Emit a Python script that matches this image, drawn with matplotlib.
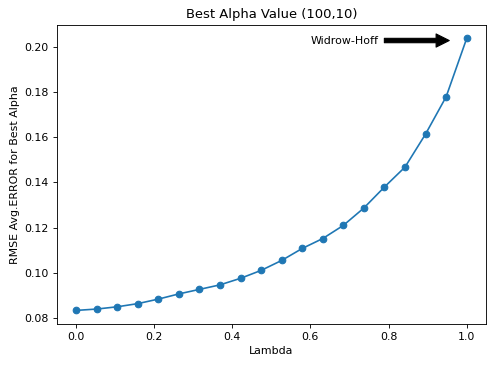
import matplotlib
matplotlib.use("Agg")
import matplotlib.pyplot as plt

lambdas = [0.0, 0.0526, 0.1053, 0.1579, 0.2105, 0.2632, 0.3158, 0.3684, 0.4211, 0.4737,
           0.5263, 0.5789, 0.6316, 0.6842, 0.7368, 0.7895, 0.8421, 0.8947, 0.9474, 1.0]
rmse = [0.0834, 0.0840, 0.0850, 0.0864, 0.0884, 0.0907, 0.0927, 0.0947, 0.0976, 0.1011,
        0.1055, 0.1108, 0.1152, 0.1210, 0.1287, 0.1380, 0.1468, 0.1614, 0.1779, 0.2037]

DPI = 79
fig = plt.figure(figsize=(498/DPI, 365/DPI), dpi=DPI)
ax = fig.add_axes([0.1135, 0.1123, 0.8628, 0.8195])
ax.plot(lambdas, rmse, marker='o', color='#1f77b4')
ax.set_title("Best Alpha Value (100,10)")
ax.set_xlabel("Lambda")
ax.set_ylabel("RMSE Avg.ERROR for Best Alpha")
ax.annotate("Widrow-Hoff", xy=(0.965, 0.2028), xytext=(0.6, 0.2028), va='center',
            arrowprops=dict(facecolor='black', shrink=0.05))
fig.savefig("out.png", dpi=DPI)
